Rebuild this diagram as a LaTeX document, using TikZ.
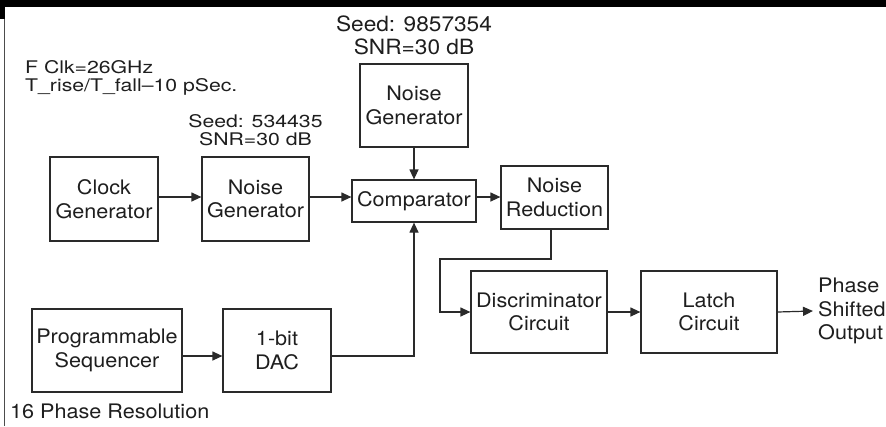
\documentclass[tikz,border=0pt]{standalone}
\usepackage{fontspec}
\setmainfont{TeX Gyre Heros}
\newfontfamily\boxfont[FakeStretch=1.08]{TeX Gyre Heros}
\newfontfamily\annfont[FakeStretch=1.22]{TeX Gyre Heros}
\usetikzlibrary{arrows.meta}
\definecolor{linec}{HTML}{2A2A2A}
\definecolor{txtc}{HTML}{1E1E1E}
\begin{document}
\begin{tikzpicture}[x=1pt,y=-1pt,
  blk/.style={draw=linec, line width=1.2pt, rectangle, inner sep=0pt, align=center,
    font=\boxfont\fontsize{20}{23.5}\selectfont, text=txtc},
  wire/.style={draw=linec, line width=1.2pt},
  arr/.style={wire, -{Triangle[length=10pt,width=9pt]}},
  lbl/.style={inner sep=0pt, text=txtc, font=\boxfont\fontsize{20}{23.5}\selectfont},
  ann/.style={inner sep=0pt, text=txtc, font=\annfont\fontsize{17.4}{18.5}\selectfont}]
\useasboundingbox (0,0) rectangle (886,426);
\fill[black] (0,0) rectangle (886,7);
\fill[black] (0,7) rectangle (5,19);
\draw[draw=gray!60!black, line width=1.3pt] (4.5,19) -- (4.5,426);

% blocks
\node[blk, minimum width=108pt, minimum height=84pt] (clk) at (104,199) {Clock\\Generator};
\node[blk, minimum width=107pt, minimum height=84pt] (ng1) at (255.5,199) {Noise\\Generator};
\node[blk, minimum width=108pt, minimum height=83pt] (ng2) at (414,105.5) {Noise\\Generator};
\node[blk, minimum width=124pt, minimum height=42pt] (cmp) at (414,201) {Comparator};
\node[blk, minimum width=107pt, minimum height=63pt] (nr) at (554.5,197.5) {Noise\\Reduction};
\node[blk, minimum width=150pt, minimum height=83pt] (prog) at (107,350.5) {Programmable\\Sequencer};
\node[blk, minimum width=108pt, minimum height=83pt] (dac) at (277,350.5) {1-bit\\DAC};
\node[blk, minimum width=136pt, minimum height=82pt] (disc) at (539,312) {Discriminator\\Circuit};
\node[blk, minimum width=136pt, minimum height=82pt] (latch) at (709,312) {Latch\\Circuit};

% labels
\node[lbl, align=left, anchor=west, inner xsep=5pt] (out) at (813,311) {Phase\\Shifted\\Output};
\node[ann, align=left, anchor=west] (clkinfo) at (25,78) {F Clk=26GHz\\T\_rise/T\_fall–10 pSec.};
\node[ann, align=center] (seed1) at (255.5,130) {Seed: 534435\\SNR=30 dB};
\node[lbl, align=center, font=\boxfont\fontsize{21}{22.7}\selectfont] (seed2) at (414,35) {Seed: 9857354\\SNR=30 dB};
\node[lbl, anchor=base west] (res) at (10,418) {16 Phase Resolution};

% connectors
\draw[arr] (clk.east |- 0,197) -- (ng1.west |- 0,197);
\draw[arr] (ng1.east |- 0,197) -- (cmp.west |- 0,197);
\draw[arr] (cmp.east |- 0,197) -- (nr.west |- 0,197);
\draw[arr] (ng2.south) -- (cmp.north);
\draw[arr] (prog.east |- 0,356) -- (dac.west |- 0,356);
\draw[arr] (dac.east |- 0,356) -| (cmp.south);
\draw[arr] (nr.south -| 551,0) |- (440,259) |- (disc.west);
\draw[arr] (disc.east) -- (latch.west);
\draw[arr] (latch.east) -- (out.west);
\end{tikzpicture}
\end{document}
